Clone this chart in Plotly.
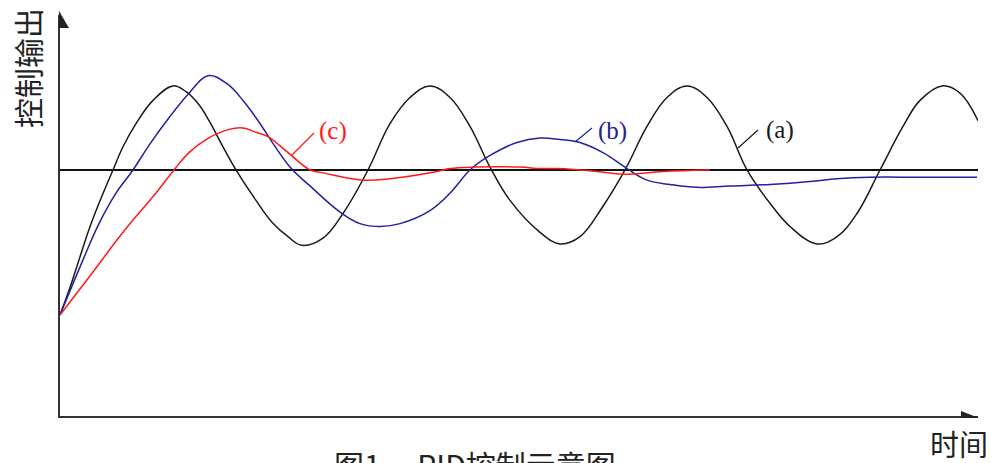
import plotly.graph_objects as go

# Time axis (s) and normalised controller output (setpoint = 1.0)
t_a = [0, .09, .19, .29, .39, .53, .63, .76, .93, 1.13, 1.26, 1.39, 1.49, 1.63, 1.76, 1.96,
       2.12, 2.28, 2.42, 2.63, 2.83, 3.08, 3.30, 3.50, 3.70, 3.90, 4.10, 4.30, 4.50, 4.80,
       5.00, 5.20, 5.43, 5.65, 5.87, 6.07, 6.27, 6.47, 6.67, 6.87, 7.10, 7.30, 7.57, 7.77,
       7.97, 8.20, 8.43, 8.60, 8.82, 9.00, 9.18]
y_a = [0, .17, .38, .59, .77, 1.0, 1.16, 1.32, 1.48, 1.58, 1.54, 1.45, 1.34, 1.16, 1.0, .79,
       .64, .54, .48, .53, .70, 1.0, 1.32, 1.50, 1.58, 1.50, 1.30, 1.02, .79, .57,
       .49, .54, .75, 1.0, 1.30, 1.50, 1.58, 1.50, 1.30, 1.0, .77, .61, .49, .54,
       .70, 1.0, 1.30, 1.48, 1.58, 1.53, 1.34]

t_b = [0, .06, .23, .39, .56, .73, .89, 1.09, 1.29, 1.48, 1.66, 1.83, 1.96, 2.30, 2.50,
       2.80, 3.00, 3.20, 3.40, 3.70, 3.90, 4.10, 4.30, 4.57, 4.80, 5.00, 5.20, 5.43, 5.67,
       5.87, 6.10, 6.37, 6.70, 7.10, 7.50, 7.77, 8.10, 8.60, 9.17]
y_b = [0, .10, .38, .63, .84, 1.0, 1.17, 1.36, 1.53, 1.65, 1.60, 1.48, 1.36, 1.02, .89,
       .71, .63, .61, .63, .72, .84, 1.0, 1.10, 1.19, 1.22, 1.21, 1.19, 1.12, 1.01,
       .93, .90, .88, .89, .90, .92, .94, .95, .95, .95]

t_c = [0, .29, .63, .97, 1.14, 1.29, 1.46, 1.69, 1.83, 1.96, 2.08, 2.28, 2.50, 2.63, 3.03,
       3.30, 3.77, 3.90, 4.13, 4.60, 4.80, 4.97, 5.37, 5.63, 6.03, 6.50]
y_c = [0, .26, .57, .85, 1.0, 1.12, 1.21, 1.28, 1.29, 1.26, 1.23, 1.12, 1.0, .98, .93,
       .94, .99, 1.01, 1.02, 1.02, 1.01, 1.01, .99, .97, .99, 1.0]

setpoint = 1.0
t_end = 9.18

X_RANGE = [0, t_end]
Y_RANGE = [-0.697, 2.069]

W, H = 994, 463
ML, MR, MT, MB = 60, 16, 15, 47
PW, PH = W - ML - MR, H - MT - MB


def px(x):
    return (x - ML) / PW


def py(y):
    return (H - MB - y) / PH


BLACK, BLUE, RED = "#1a1a1a", "#22229c", "#ff1a1a"

fig = go.Figure()

fig.add_trace(go.Scatter(x=[0, t_end], y=[setpoint, setpoint], mode="lines",
                         line=dict(color="#111111", width=2), hoverinfo="skip"))
for t, y, c in ((t_a, y_a, BLACK), (t_b, y_b, BLUE), (t_c, y_c, RED)):
    fig.add_trace(go.Scatter(x=t, y=y, mode="lines",
                             line=dict(color=c, width=1.5, shape="spline", smoothing=1.1)))

shapes = [
    # arrowheads on the two axes
    dict(type="path", xref="paper", yref="paper", line=dict(width=0), fillcolor="#222",
         path=f"M{px(59)},{py(11)} L{px(69)},{py(28)} L{px(59)},{py(28)} Z"),
    dict(type="path", xref="paper", yref="paper", line=dict(width=0), fillcolor="#222",
         path=f"M{px(961)},{py(411)} L{px(979)},{py(418)} L{px(961)},{py(418)} Z"),
    # leader lines for the curve labels
    dict(type="line", xref="paper", yref="paper", x0=px(292), y0=py(155), x1=px(314), y1=py(133),
         line=dict(color=RED, width=1.2)),
    dict(type="line", xref="paper", yref="paper", x0=px(575), y0=py(142), x1=px(592), y1=py(128),
         line=dict(color=BLUE, width=1.2)),
    dict(type="line", xref="paper", yref="paper", x0=px(738), y0=py(148), x1=px(758), y1=py(130),
         line=dict(color=BLACK, width=1.2)),
]

label_font = "Liberation Serif, DejaVu Serif, serif"
cjk_font = "Noto Sans CJK SC, sans-serif"
annotations = [
    dict(text="(c)", x=px(333), y=py(131), font=dict(family=label_font, size=25, color=RED)),
    dict(text="(b)", x=px(612), y=py(131), font=dict(family=label_font, size=25, color=BLUE)),
    dict(text="(a)", x=px(780), y=py(130), font=dict(family=label_font, size=25, color=BLACK)),
    dict(text="控制输出", x=px(27), y=py(68), textangle=-90,
         font=dict(family=cjk_font, size=30, color="#222")),
    dict(text="时间", x=px(959), y=py(443),
         font=dict(family=cjk_font, size=29, color="#222")),
    dict(text="图1\u3000 PID控制示意图", x=px(475), y=py(440), yanchor="top",
         font=dict(family=cjk_font, size=30, color="#222")),
]
for a in annotations:
    a.update(xref="paper", yref="paper", showarrow=False)
    a.setdefault("yanchor", "middle")
    a["xanchor"] = "center"

fig.update_layout(
    width=W, height=H,
    margin=dict(l=ML, r=MR, t=MT, b=MB, pad=0),
    paper_bgcolor="white", plot_bgcolor="white",
    showlegend=False,
    shapes=shapes,
    annotations=annotations,
    xaxis=dict(range=X_RANGE, showgrid=False, zeroline=False, showticklabels=False,
               ticks="", showline=True, linecolor="#333", linewidth=2),
    yaxis=dict(range=Y_RANGE, showgrid=False, zeroline=False, showticklabels=False,
               ticks="", showline=True, linecolor="#333", linewidth=2),
)

fig.write_html("out.html", config={"displayModeBar": False})
